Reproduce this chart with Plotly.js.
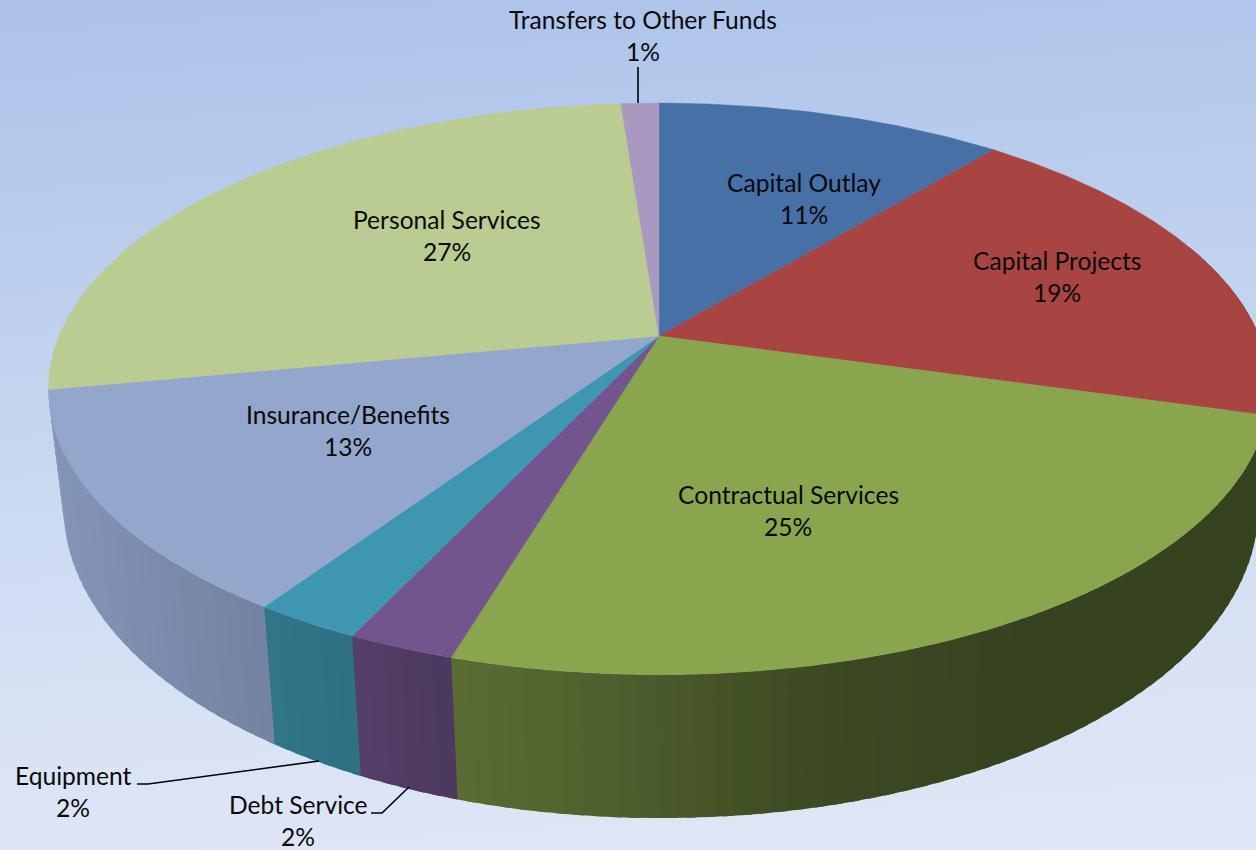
<!DOCTYPE html>
<html>
<head>
<meta charset="utf-8">
<script src="https://cdn.plot.ly/plotly-3.0.1.min.js"></script>
<style>
html,body{margin:0;padding:0;width:1256px;height:850px;overflow:hidden;
background:linear-gradient(176deg,#acc2e9 0%,#b3c8eb 15%,#c9d8f1 50%,#d9e3f4 80%,#e0e7f6 100%);}
#chart{width:1256px;height:850px;}
</style>
</head>
<body>
<div id="chart"></div>
<script>
// Data
const categories = ["Capital Outlay","Capital Projects","Contractual Services","Debt Service","Equipment","Insurance/Benefits","Personal Services","Transfers to Other Funds"];
const sliceShares = [11, 18.4, 25.2, 2.4, 2.4, 12.6, 26.8, 1.2];
const printedPercents = [11, 19, 25, 2, 2, 13, 27, 1];

// Styles and placement
const topColors = ["#4670a6","#a84442","#89a54e","#71558c","#3f96b0","#93a7cd","#bacc91","#a998bf"];
const labelX = [803.5,1057,788,298,73,348,447,642.5];
const labelY = [182.5,260.5,494.5,804,775.5,414.5,219.5,19.5];
const labelGap = 32;
const tilt = 0.185;
const topDisc = {cx:659, cy:336, A:600, B:276};
const lowDisc = {cx:661, cy:450, A:587, B:300};
const shadeStops = [[40,.9],[270,.78],[360,.74],[458,.655],[650,.55],[800,.45],[1000,.405],[1300,.40]];
const sideFrom = 70, sideTo = 259.4, stripStep = 1.5, stripOverlap = 0.8;

function project(d, deg){
  const t = deg*Math.PI/180, u = Math.sin(t), v = Math.cos(t), w = 1+tilt*v;
  return [d.cx + d.A*u/w, d.cy - d.B*v/w];
}
function shadeAt(x){
  for(let i=1;i<shadeStops.length;i++){
    if(x<=shadeStops[i][0]){
      const a=shadeStops[i-1], b=shadeStops[i], f=Math.max(0,(x-a[0])/(b[0]-a[0]));
      return a[1]+(b[1]-a[1])*f;
    }
  }
  return shadeStops[shadeStops.length-1][1];
}
function shaded(hex,f){
  const n=parseInt(hex.slice(1),16);
  return `rgb(${Math.round((n>>16&255)*f)},${Math.round((n>>8&255)*f)},${Math.round((n&255)*f)})`;
}

const total = sliceShares.reduce((a,b)=>a+b,0);
let edges=[0];
sliceShares.forEach(s=>edges.push(edges[edges.length-1]+s/total*360));

const traces=[];
const base={type:"scatter",mode:"lines",fill:"toself",hoverinfo:"skip",showlegend:false};

// side wall: each strip runs on under the next one, so no seam shows between them
categories.forEach((c,i)=>{
  const a0=Math.max(edges[i],sideFrom), a1=Math.min(edges[i+1],sideTo);
  if(a1<=a0) return;
  const n=Math.max(1,Math.ceil((a1-a0)/stripStep));
  for(let k=0;k<n;k++){
    const s=a0+(a1-a0)*k/n, m=a0+(a1-a0)*(k+1)/n;
    const e=Math.min(m+stripOverlap,sideTo);
    const p=[project(topDisc,s),project(topDisc,e),project(lowDisc,e),project(lowDisc,s),project(topDisc,s)];
    const col=shaded(topColors[i],shadeAt((p[0][0]+p[1][0]+p[2][0]+p[3][0])/4));
    traces.push(Object.assign({},base,{x:p.map(q=>q[0]),y:p.map(q=>q[1]),fillcolor:col,line:{color:col,width:0}}));
  }
});

// top face
categories.forEach((c,i)=>{
  const xs=[topDisc.cx], ys=[topDisc.cy];
  const n=Math.max(4,Math.ceil(edges[i+1]-edges[i])*2);
  for(let k=0;k<=n;k++){
    const q=project(topDisc,edges[i]+(edges[i+1]-edges[i])*k/n);
    xs.push(q[0]); ys.push(q[1]);
  }
  xs.push(topDisc.cx); ys.push(topDisc.cy);
  traces.push(Object.assign({},base,{x:xs,y:ys,name:c,fillcolor:topColors[i],line:{color:topColors[i],width:.5}}));
});

const annotations=[];
categories.forEach((c,i)=>{
  const common={xref:"x",yref:"y",x:labelX[i],showarrow:false,xanchor:"center",yanchor:"middle",
    font:{family:"Lato, 'Open Sans', sans-serif",size:24.6,color:"#0a0a0a"}};
  annotations.push(Object.assign({},common,{y:labelY[i],text:c}));
  annotations.push(Object.assign({},common,{y:labelY[i]+labelGap,text:printedPercents[i]+"%"}));
});

const leader={type:"path",xref:"x",yref:"y",line:{color:"#000",width:1.6}};
const shapes=[
  Object.assign({},leader,{path:"M638,67 L638,103"}),
  Object.assign({},leader,{path:"M137,784 L148,784 L319,761"}),
  Object.assign({},leader,{path:"M371,813 L382,813 L409,787"})
];

const layout={
  width:1256,height:850,
  margin:{l:0,r:0,t:0,b:0,pad:0},
  paper_bgcolor:"rgba(0,0,0,0)",plot_bgcolor:"rgba(0,0,0,0)",
  showlegend:false,
  xaxis:{range:[0,1256],visible:false,fixedrange:true},
  yaxis:{range:[850,0],visible:false,fixedrange:true},
  annotations,shapes
};
Plotly.newPlot("chart",traces,layout,{displayModeBar:false,staticPlot:true});
</script>
</body>
</html>
